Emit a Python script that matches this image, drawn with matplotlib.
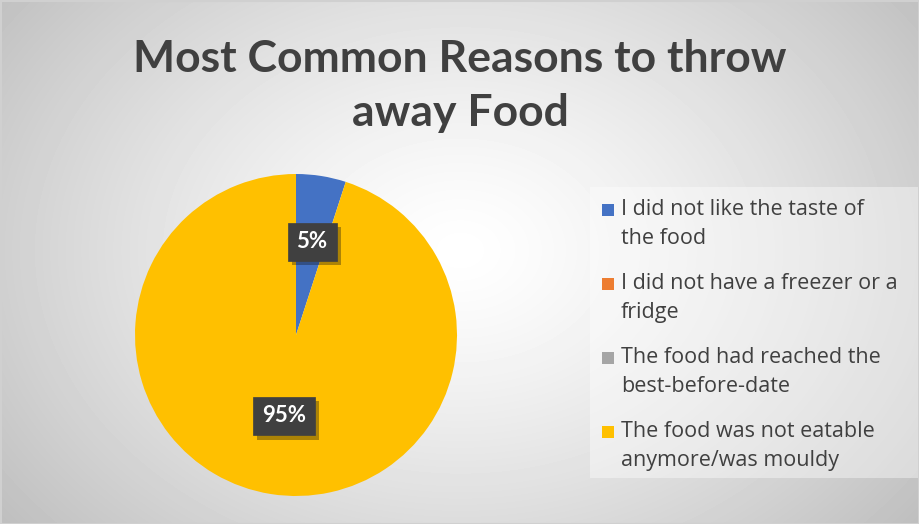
import numpy as np
import matplotlib
matplotlib.use("Agg")
import matplotlib.pyplot as plt
from matplotlib.patches import Rectangle
from matplotlib import patheffects as pe

categories = ["I did not like the taste of\nthe food",
              "I did not have a freezer or a\nfridge",
              "The food had reached the\nbest-before-date",
              "The food was not eatable\nanymore/was mouldy"]
values = [5, 0, 0, 95]
colors = ["#4472C4", "#ED7D31", "#A5A5A5", "#FFC000"]
title = "Most Common Reasons to throw\naway Food"

W, H = 920, 524
fig = plt.figure(figsize=(W / 100, H / 100), dpi=100)

# radial gradient background
bg = fig.add_axes([0, 0, 1, 1], zorder=-10)
yy, xx = np.mgrid[0:H, 0:W]
d = np.sqrt(((xx - 460) / 560.0) ** 2 + ((yy - 250) / 420.0) ** 2)
g = np.clip(1.0 - 0.24 * d ** 1.3, 0, 1)
bg.imshow(g, cmap="gray", vmin=0, vmax=1, extent=[0, W, H, 0], aspect="auto", interpolation="bilinear")
bg.add_patch(Rectangle((0.5, 0.5), W - 1, H - 1, fill=False, edgecolor="#d0d0d0", lw=1.5))
bg.set_xlim(0, W); bg.set_ylim(H, 0)
bg.axis("off")

# legend background
bg.add_patch(Rectangle((590, 187), 328, 291, facecolor="white", alpha=0.4, edgecolor="none"))

fig.text(0.5, 1 - 86 / H, title, ha="center", va="center", fontsize=32, fontweight="bold",
         color="#404040", family="Lato", linespacing=1.4)

# pie
cx, cy, r = 296, 335, 161
ax = fig.add_axes([(cx - r) / W, 1 - (cy + r) / H, 2 * r / W, 2 * r / H])
wedges, _ = ax.pie(values, colors=colors, startangle=90, counterclock=False,
                   radius=1.0, wedgeprops=dict(linewidth=0))
ax.set_xlim(-1, 1); ax.set_ylim(-1, 1)
ax.set_aspect("auto")
ax.axis("off")

label_pos = {0: (0.10, 0.578), 3: (-0.075, -0.503)}
for i, (x, y) in label_pos.items():
    t = ax.text(x, y, f"{values[i]}%", ha="center", va="center", fontsize=16, fontweight="bold",
                color="white", family="Lato",
                bbox=dict(boxstyle="square,pad=0.4", facecolor="#404040", edgecolor="#404040",
                          linewidth=0.5))
    t.get_bbox_patch().set_path_effects([pe.SimplePatchShadow(offset=(3, -3), alpha=0.35),
                                         pe.Normal()])

# legend
y0 = 210
for i, (lab, col) in enumerate(zip(categories, colors)):
    yc = y0 + i * 74
    bg.add_patch(Rectangle((602, yc - 6), 12, 12, facecolor=col, edgecolor="none"))
    bg.text(621, yc - 11, lab, ha="left", va="top", fontsize=15.5, color="#404040",
            family="Open Sans", linespacing=1.5)

fig.savefig("out.png", dpi=100)
